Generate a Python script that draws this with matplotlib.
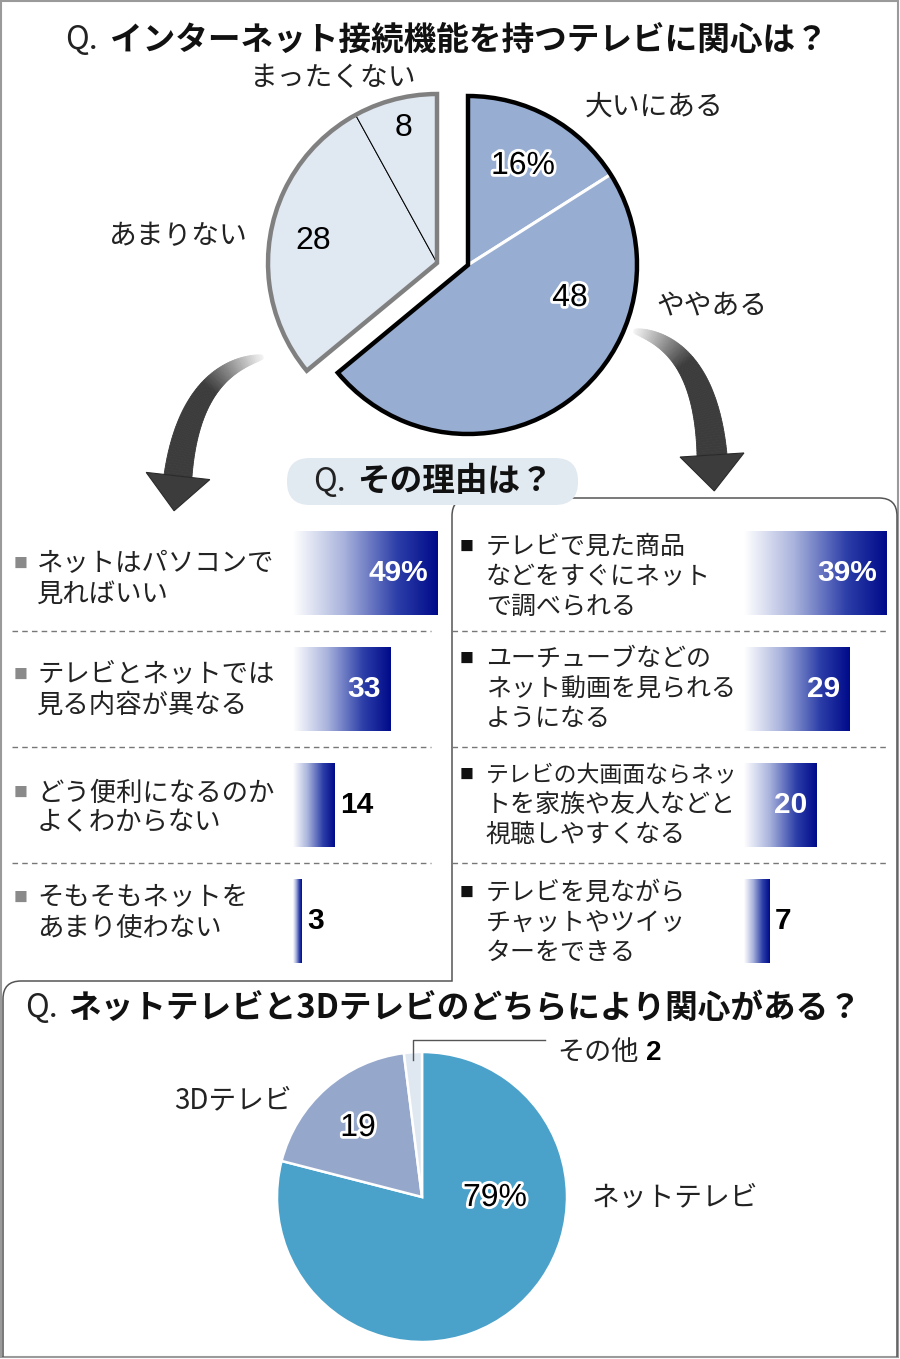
import numpy as np
import matplotlib.pyplot as plt
from matplotlib.patches import Wedge, Rectangle, FancyBboxPatch, Polygon, PathPatch
from matplotlib.path import Path
from matplotlib.colors import LinearSegmentedColormap
import matplotlib.patheffects as pe

plt.rcParams['font.family'] = ['Noto Sans CJK JP', 'DejaVu Sans']
NUM_FONT = ['Liberation Sans', 'DejaVu Sans']

W, H = 900, 1359

# --- data ---
title1 = 'インターネット接続機能を持つテレビに関心は？'
q1_labels = ['大いにある', 'ややある', 'あまりない', 'まったくない']
q1_values = [16, 48, 28, 8]
q1_texts = ['16%', '48', '28', '8']

title2 = 'その理由は？'
no_reasons = ['ネットはパソコンで\n見ればいい',
              'テレビとネットでは\n見る内容が異なる',
              'どう便利になるのか\nよくわからない',
              'そもそもネットを\nあまり使わない']
no_values = [49, 33, 14, 3]
no_texts = ['49%', '33', '14', '3']

yes_reasons = ['テレビで見た商品\nなどをすぐにネット\nで調べられる',
               'ユーチューブなどの\nネット動画を見られる\nようになる',
               'テレビの大画面ならネッ\nトを家族や友人などと\n視聴しやすくなる',
               'テレビを見ながら\nチャットやツイッ\nターをできる']
yes_values = [39, 29, 20, 7]
yes_texts = ['39%', '29', '20', '7']

title3 = 'ネットテレビと3Dテレビのどちらにより関心がある？'
q3_labels = ['ネットテレビ', '3Dテレビ', 'その他']
q3_values = [79, 19, 2]
q3_texts = ['79%', '19', '2']

# --- figure, pixel axes (y down) ---
fig = plt.figure(figsize=(9, 13.59), dpi=100)
ax = fig.add_axes([0, 0, 1, 1])

outline = [pe.withStroke(linewidth=4, foreground='white')]

# outer frame
ax.add_patch(Rectangle((1, 1), W - 3, H - 3, fill=False, ec='#9a9a9a', lw=1.5, zorder=1))

# panels for the reasons / bottom question
verts = [(3, 1357), (3, 999), (3, 981), (21, 981), (452, 981), (452, 516), (452, 498), (470, 498),
         (879, 498), (897, 498), (897, 516), (897, 1357)]
codes = [Path.MOVETO, Path.LINETO, Path.CURVE3, Path.CURVE3, Path.LINETO, Path.LINETO,
         Path.CURVE3, Path.CURVE3, Path.LINETO, Path.CURVE3, Path.CURVE3, Path.LINETO]
ax.add_patch(PathPatch(Path(verts, codes), fill=False, ec='#555555', lw=1.1, zorder=1))

# titles
def q_title(xq, xt, y, text):
    ax.text(xq, y, 'Q.', fontsize=23, ha='left', va='center', color='#222222', zorder=5)
    ax.text(xt, y, text, fontsize=23.5, fontweight='bold', ha='left', va='center',
            color='#111111', zorder=5)

q_title(65, 110, 40, title1)
ax.add_patch(FancyBboxPatch((287, 458), 291, 47, boxstyle='round,pad=0,rounding_size=23',
                            fc='#e1e9f1', ec='none', zorder=3))
q_title(313, 357, 482, title2)
q_title(25, 68, 1008, title3)

# --- top pie ---
q1_colors = ['#97add2', '#97add2', '#e0e8f2', '#e0e8f2']
R1 = 169
wedges1, _ = ax.pie(q1_values, colors=q1_colors, startangle=-90, counterclock=True,
                    radius=R1, center=(0, 0), frame=True)
dark_c, light_c = (468, 265), (437, 263)
for i, w in enumerate(wedges1):
    w.set_zorder(2)
    if i < 2:
        w.set_center(dark_c)
        w.set_edgecolor('white')
        w.set_linewidth(2.2)
    else:
        w.set_center(light_c)
        w.set_edgecolor('black')
        w.set_linewidth(0.7)
ax.add_patch(Wedge(dark_c, R1, wedges1[0].theta1, wedges1[1].theta2, fill=False,
                   ec='black', lw=3.2, joinstyle='miter', zorder=3))
ax.add_patch(Wedge(light_c, R1, wedges1[2].theta1, wedges1[3].theta2, fill=False,
                   ec='#808080', lw=3.2, joinstyle='miter', zorder=3))

q1_label_pos = [(654, 107), (712, 306), (178, 236), (333, 78)]
q1_num_pos = [(523, 166), (570, 298), (313, 241), (403, 128)]
for lab, txt, lp, npos, i in zip(q1_labels, q1_texts, q1_label_pos, q1_num_pos, range(4)):
    ax.text(*lp, lab, fontsize=20, ha='center', va='center', color='#222222', zorder=5)
    ax.text(*npos, txt, fontsize=23, family=NUM_FONT, ha='center', va='center',
            color='black', zorder=5, path_effects=outline if i < 2 else None)

# --- curved arrows ---
arrow_cmap = LinearSegmentedColormap.from_list('arr', [(0, '#f2f2f2'), (0.45, '#3c3c3c'), (1, '#3c3c3c')])

def curved_arrow(p0, p1, p2, w0, w1, head_w, head_l, n=80):
    p0, p1, p2 = map(np.asarray, (p0, p1, p2))
    t = np.linspace(0, 1, n)[:, None]
    pts = (1 - t) ** 2 * p0 + 2 * (1 - t) * t * p1 + t ** 2 * p2
    tan = 2 * (1 - t) * (p1 - p0) + 2 * t * (p2 - p1)
    tan = tan / np.linalg.norm(tan, axis=1, keepdims=True)
    nor = np.column_stack([-tan[:, 1], tan[:, 0]])
    wid = (w0 + (w1 - w0) * t[:, 0] ** 0.6)[:, None]
    a, b = pts + nor * wid / 2, pts - nor * wid / 2
    for i in range(n - 1):
        c = arrow_cmap(t[i, 0])
        ax.add_patch(Polygon([a[i], a[i + 1], b[i + 1], b[i]], closed=True, fc=c, ec=c,
                             lw=0.6, zorder=2))
    d, nn = tan[-1], nor[-1]
    head = [p2 + nn * head_w / 2, p2 + d * head_l, p2 - nn * head_w / 2]
    ax.add_patch(Polygon(head, closed=True, fc='#3c3c3c', ec='#2a2a2a', lw=0.8, zorder=2))

curved_arrow((263, 357), (190, 370), (178, 476), 3, 28, 64, 35)
curved_arrow((634, 331), (705, 345), (712, 455), 3, 30, 64, 36)

# --- reasons: bars ---
grad_cmap = LinearSegmentedColormap.from_list('bar', [(0, '#ffffff'), (0.35, '#a9b3dc'),
                                                     (0.72, '#2c3ea8'), (1, '#000a8a')])
grad = np.linspace(0, 1, 256).reshape(1, -1)
ROW_TOP, ROW_H, BAR_H = 515, 116, 0.72

def px_axes(x0, y0, w, h):
    a = fig.add_axes([x0 / W, 1 - (y0 + h) / H, w / W, h / H])
    a.patch.set_visible(False)
    a.axis('off')
    return a

def bar_panel(x0, width_px, xmax, values, texts):
    a = px_axes(x0, ROW_TOP, width_px, ROW_H * len(values))
    bars = a.barh(range(len(values)), values, height=BAR_H, color='none', ec='none')
    for i, (b, v, t) in enumerate(zip(bars, values, texts)):
        im = a.imshow(grad, cmap=grad_cmap, aspect='auto', interpolation='bilinear',
                      extent=[0, v, i + BAR_H / 2, i - BAR_H / 2], zorder=2)
        im.set_clip_path(b)
        if v >= 20:
            a.annotate(t, (v, i), xytext=(-7, 0), textcoords='offset points', ha='right',
                       va='center', color='white', fontsize=21.5, fontweight='bold',
                       family=NUM_FONT, zorder=4)
        else:
            a.annotate(t, (v, i), xytext=(4, 0), textcoords='offset points', ha='left',
                       va='center', color='black', fontsize=21.5, fontweight='bold',
                       family=NUM_FONT, zorder=4)
    a.set_xlim(0, xmax)
    a.set_ylim(len(values) - 0.5, -0.5)
    return a

bar_panel(293, 147.5, 50, no_values, no_texts)
bar_panel(744, 146, 40, yes_values, yes_texts)

# row labels and separators
LINE_STEP = 30
def row_labels(x_bullet, x_text, reasons, bullet_color, size, max_w, shifts):
    for i, r in enumerate(reasons):
        lines = r.split('\n')
        yc = ROW_TOP + ROW_H * (i + 0.5) + shifts[i]
        y0 = yc - LINE_STEP * (len(lines) - 1) / 2
        ax.text(x_bullet, y0, '■', fontsize=10, color=bullet_color, ha='center', va='center', zorder=5)
        for k, ln in enumerate(lines):
            fs = min(size, max_w / len(ln) / (100 / 72))
            ax.text(x_text, y0 + k * LINE_STEP, ln, fontsize=fs, ha='left', va='center',
                    color='#222222', zorder=5)

row_labels(21, 37, no_reasons, '#8a8a8a', 19, 250, [6, 1, 3, -8])
row_labels(467, 486, yes_reasons, '#111111', 18, 252, [4, 0, 0, 2])

for k in range(1, 4):
    y = ROW_TOP + ROW_H * k
    ax.plot([12, 431], [y, y], color='#777777', lw=1, ls=(0, (4, 3)), zorder=2)
    ax.plot([452, 886], [y, y], color='#777777', lw=1, ls=(0, (4, 3)), zorder=2)

# --- bottom pie ---
q3_colors = ['#4aa1ca', '#95a8cb', '#dfe7f0']
R3, c3 = 145, (422, 1197)
wedges3, _ = ax.pie(q3_values, colors=q3_colors, startangle=-90, counterclock=True,
                    radius=R3, center=c3, frame=True,
                    wedgeprops=dict(edgecolor='white', linewidth=1.8))
for w in wedges3:
    w.set_zorder(2)

ax.text(495, 1198, q3_texts[0], fontsize=23, family=NUM_FONT, ha='center', va='center',
        zorder=5, path_effects=outline)
ax.text(358, 1128, q3_texts[1], fontsize=23, family=NUM_FONT, ha='center', va='center',
        zorder=5, path_effects=outline)
ax.text(675, 1198, q3_labels[0], fontsize=20, ha='center', va='center', color='#222222', zorder=5)
ax.text(233, 1100, q3_labels[1], fontsize=20, ha='center', va='center', color='#222222', zorder=5)
ax.text(557, 1053, q3_labels[2], fontsize=19.5, ha='left', va='center', color='#222222', zorder=5)
ax.text(646, 1053, q3_texts[2], fontsize=20, fontweight='bold', family=NUM_FONT,
        ha='left', va='center', zorder=5)
# leader for the small slice
mid = np.deg2rad((wedges3[2].theta1 + wedges3[2].theta2) / 2)
lx = c3[0] + R3 * 0.95 * np.cos(mid)
ly = c3[1] + R3 * 0.95 * np.sin(mid)
ax.plot([lx, lx, 545], [ly, 1040, 1040], color='#555555', lw=1, zorder=4)

ax.set_aspect('auto')
ax.set_xlim(0, W)
ax.set_ylim(H, 0)
ax.axis('off')

fig.savefig('out.png', dpi=100)
